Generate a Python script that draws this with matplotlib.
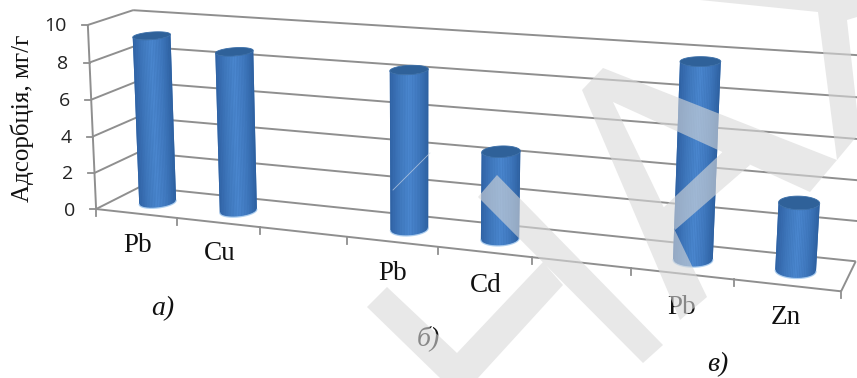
import numpy as np
import matplotlib
matplotlib.use("Agg")
import matplotlib.pyplot as plt
from matplotlib.collections import PolyCollection
from matplotlib.colors import LinearSegmentedColormap
from matplotlib.patches import Polygon, PathPatch
from matplotlib.path import Path

# =========================
# DATA
# =========================
categories = ["Pb", "Cu", "", "Pb", "Cd", "", "Pb", "Zn"]
values = [9.15, 8.6, 0, 8.3, 4.5, 0, 9.7, 3.3]
y_ticks = [0, 2, 4, 6, 8, 10]
y_label = "Адсорбція, мг/г"
panel_labels = ["а)", "б)", "в)"]

# =========================
# STYLE
# =========================
SERIF = "Liberation Serif"
GRID = "#8f8f8f"
bar_cmap = LinearSegmentedColormap.from_list(
    "bar", ["#2f61a3", "#3f78bd", "#4a86ce", "#3f78be", "#2d5f9f"])

fig = plt.figure(figsize=(8.57, 3.78), dpi=100)
ax = fig.add_axes([0, 0, 1, 1])
ax.set_xlim(0, 857)
ax.set_ylim(378, 0)
ax.axis("off")

# =========================
# CHART BOX -> IMAGE (perspective fit)
# u = category position, w = value, d = depth
# =========================
box_pts = [(0, 0, 0), (8, 0, 0), (0, 10, 0), (0, 0, 1), (8, 0, 1), (0, 10, 1), (8, 10, 1)]
img_pts = [(98, 208), (841, 292.5), (86, 25), (138, 188), (856, 260), (135, 10), (868, 56)]

rows, rhs = [], []
for (u, w, d), (px, py) in zip(box_pts, img_pts):
    rows.append([u, w, d, 1, 0, 0, 0, 0, -px * u, -px * w, -px * d])
    rows.append([0, 0, 0, 0, u, w, d, 1, -py * u, -py * w, -py * d])
    rhs += [px, py]
coef = np.linalg.lstsq(np.array(rows, float), np.array(rhs, float), rcond=None)[0]
P = np.append(coef, 1).reshape(3, 4)


def proj(u, w, d):
    u, w, d = np.broadcast_arrays(u, w, d)
    pts = np.stack([u, w, d, np.ones_like(u, dtype=float)])
    xh, yh, zh = P @ pts
    return xh / zh, yh / zh


def line3d(a, b, **kw):
    xa, ya = proj(*a)
    xb, yb = proj(*b)
    ax.plot([xa, xb], [ya, yb], color=GRID, lw=kw.pop("lw", 1.4),
            solid_capstyle="butt", zorder=kw.pop("zorder", 1), **kw)


# =========================
# WALLS AND AXES
# =========================
for w in y_ticks:
    line3d((0, w, 0), (0, w, 1))
    line3d((0, w, 1), (8, w, 1))
    x0, y0 = proj(0, w, 0)
    ax.plot([x0 - 6, x0], [y0, y0], color=GRID, lw=1.3, zorder=1)
    ax.text(x0 - 21, y0 + 1.5, str(w), ha="right", va="center",
            fontsize=14, family="Open Sans", color="#222222", zorder=2)

line3d((0, 0, 0), (0, 10, 0))
line3d((0, 0, 0), (8, 0, 0))
line3d((8, 0, 0), (8, 0, 1))
for i in range(len(categories) + 1):
    x0, y0 = proj(i, 0, 0)
    ax.plot([x0, x0], [y0, y0 + 7], color=GRID, lw=1.3, zorder=1)

# =========================
# CYLINDERS
# =========================
r_u, r_d = 0.19, 0.25
t = np.linspace(0, 2 * np.pi, 721)

for i, val in enumerate(values):
    if val <= 0:
        continue
    uc = i + 0.5
    u_ring = uc + r_u * np.cos(t)
    d_ring = 0.5 + r_d * np.sin(t)
    xb, yb = proj(u_ring, 0, d_ring)
    xt, yt = proj(u_ring, val, d_ring)

    # front half of the side, between left and right silhouette
    i_left, i_right = xb[:-1].argmin(), xb[:-1].argmax()
    n = len(t) - 1
    steps = (i_right - i_left) % n
    idx = (i_left + np.arange(steps + 1)) % n
    if yb[idx].mean() < yb.mean():
        steps = (i_left - i_right) % n
        idx = (i_left - np.arange(steps + 1)) % n

    # base shape first, strips even in x on top (bunched strips give jagged edges)
    outline = np.vstack([np.column_stack([xb[idx], yb[idx]]),
                         np.column_stack([xt[idx[::-1]], yt[idx[::-1]]])])
    ax.add_patch(Polygon(outline, closed=True, facecolor="#3a72b6", edgecolor="none", zorder=3))

    s = (xb[idx] - xb[i_left]) / (xb[i_right] - xb[i_left])
    cuts = idx[np.searchsorted(s, np.linspace(0, 1, 25)).clip(0, len(idx) - 1)]
    quads, shades = [], []
    for k, (a, b) in enumerate(zip(cuts[:-1], cuts[1:])):
        quads.append([(xb[a], yb[a]), (xb[b], yb[b]), (xt[b], yt[b]), (xt[a], yt[a])])
        shades.append((k + 0.5) / (len(cuts) - 1))
    side = PolyCollection(quads, facecolors=bar_cmap(np.array(shades)), edgecolors="none",
                          linewidths=0, zorder=3)
    ax.add_collection(side)
    ax.plot(xb[idx], yb[idx] + 0.5, color="#9cc4ec", lw=0.9, alpha=0.8, zorder=3)
    ax.add_patch(Polygon(np.column_stack([xt, yt]), closed=True, facecolor="#2f6199",
                         edgecolor="#3a6ea8", lw=0.6, zorder=4))

# =========================
# TEXT
# =========================
label_pos = [(138, 245), (220, 254), None, (393, 274), (486, 285), None, (682, 307), (786, 318)]
for name, pos in zip(categories, label_pos):
    if name:
        ax.text(pos[0], pos[1], name, ha="center", va="center", fontsize=19.5,
                family=SERIF, color="#111111", zorder=5)

ax.text(22, 118, y_label, rotation=90, ha="center", va="center", fontsize=18,
        family=SERIF, color="#111111", zorder=5)

panel_pos = [(163, 309), (428, 338), (718, 365)]
for name, pos in zip(panel_labels, panel_pos):
    ax.text(pos[0], pos[1], name, ha="center", va="center", fontsize=20,
            family=SERIF, style="italic", color="#111111", zorder=5)

# =========================
# WATERMARK (one compound path, so overlaps do not get darker)
# =========================
watermark = [
    [(367, 307), (387, 287), (457, 353), (543, 262), (563, 285), (478, 378), (440, 378)],
    [(497, 175), (663, 345), (643, 363), (478, 197)],
    [(582, 90), (603, 68), (613, 102), (707, 297), (680, 320)],
    [(603, 68), (837, 160), (810, 192), (613, 102)],
    [(663, 208), (730, 145), (750, 165), (675, 230)],
    [(700, 0), (818, 12), (837, 160), (857, 136), (857, 110), (847, 20), (857, 17), (857, 0)],
]
paths = []
for shape in watermark:
    s = np.array(shape, float)
    area = np.sum(s[:, 0] * np.roll(s[:, 1], -1) - np.roll(s[:, 0], -1) * s[:, 1])
    if area < 0:
        s = s[::-1]
    paths.append(Path(np.vstack([s, s[0]]), closed=True))
ax.add_patch(PathPatch(Path.make_compound_path(*paths), facecolor="#d9d9d9",
                       edgecolor="none", alpha=0.6, zorder=6))
ax.plot([393, 430], [190, 153], color="#cfd8e6", lw=0.6, alpha=0.7, zorder=6)

fig.savefig("out.png", dpi=100)
